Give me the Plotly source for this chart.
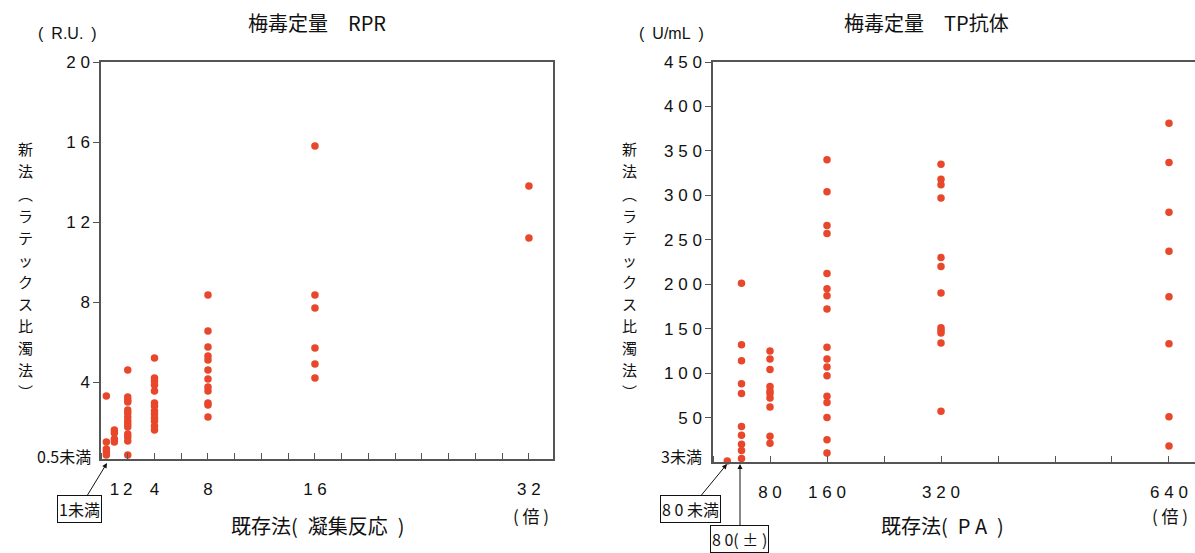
import plotly.graph_objects as go

# ---------------- data ----------------
# RPR (left): x = existing method (agglutination titre), y = new method (R.U.)
rpr_x_pos = [0.4, 1, 2, 4, 8, 16, 32]          # "1未満" drawn at 0.4
rpr_values = [
    [3.3, 1.0, 0.65, 0.5, 0.35],                                   # 1未満
    [1.6, 1.45, 1.15, 1.0],                                         # 1
    [4.6, 3.25, 3.1, 3.0, 2.6, 2.45, 2.25, 2.05, 1.9, 1.75, 1.4, 1.25, 1.05, 0.35],  # 2
    [5.2, 4.2, 4.05, 3.85, 3.55, 2.95, 2.8, 2.55, 2.4, 2.2, 2.05, 1.8, 1.6],          # 4
    [8.35, 6.55, 5.75, 5.3, 5.1, 4.6, 4.15, 3.75, 3.55, 2.95, 2.85, 2.25],            # 8
    [15.8, 8.35, 7.7, 5.7, 4.9, 4.2],                               # 16
    [13.8, 11.2],                                                   # 32
]
rpr_xtick_vals = [1, 2, 4, 8, 16, 32]
rpr_xtick_text = ["1", "2", "4", "8", "1 6", "3 2"]
rpr_ytick_vals = [4, 8, 12, 16, 20]
rpr_ytick_text = ["4", "8", "1 2", "1 6", "2 0"]

# TP antibody (right): x = existing method (PA titre), y = new method (U/mL)
tp_x_pos = [20, 40, 80, 160, 320, 640]          # "80未満" at 20, "80(±)" at 40
tp_values = [
    [1],                                                            # 80未満
    [201, 132, 114, 88, 77, 40, 30, 20, 13, 4],                     # 80(±)
    [125, 116, 104, 85, 80, 77, 72, 62, 29, 21],                    # 80
    [340, 304, 266, 257, 212, 195, 187, 172, 129, 116, 107, 97, 74, 67, 50, 25, 10],  # 160
    [335, 318, 312, 297, 230, 220, 190, 151, 148, 145, 134, 57],    # 320
    [381, 337, 281, 237, 186, 133, 51, 18],                         # 640
]
tp_xtick_vals = [80, 160, 320, 640]
tp_xtick_text = ["8 0", "1 6 0", "3 2 0", "6 4 0"]
tp_ytick_vals = [50, 100, 150, 200, 250, 300, 350, 400, 450]
tp_ytick_text = ["5 0", "1 0 0", "1 5 0", "2 0 0", "2 5 0", "3 0 0", "3 5 0", "4 0 0", "4 5 0"]

y_title_chars = list("新法︵ラテックス比濁法︶")

# ---------------- styling ----------------
W, H = 1195, 553
RED = "#e8472b"
AX = "#555555"
FONT = "Liberation Sans, Arial, Noto Sans CJK JP, sans-serif"
JP = "Noto Sans CJK JP, Liberation Sans, sans-serif"


def px(xp):
    return xp / W


def py(yp):
    return 1 - yp / H


fig = go.Figure()
for xv, ys in zip(rpr_x_pos, rpr_values):
    fig.add_trace(go.Scatter(x=[xv] * len(ys), y=ys, mode="markers",
                             marker=dict(color=RED, size=7.5), cliponaxis=False,
                             xaxis="x", yaxis="y", showlegend=False, hoverinfo="x+y"))
for xv, ys in zip(tp_x_pos, tp_values):
    fig.add_trace(go.Scatter(x=[xv] * len(ys), y=ys, mode="markers",
                             marker=dict(color=RED, size=7.5), cliponaxis=False,
                             xaxis="x2", yaxis="y2", showlegend=False, hoverinfo="x+y"))

common_x = dict(showline=True, linecolor=AX, linewidth=1.5, showgrid=False, zeroline=False,
                ticks="", tickfont=dict(size=17, color="#111", family=FONT),
                ticklabelstandoff=14, automargin=False)
common_y = dict(showline=True, linecolor=AX, linewidth=1.5, showgrid=False, zeroline=False,
                ticks="outside", ticklen=6, tickcolor=AX, tickwidth=1,
                tickfont=dict(size=17, color="#111", family=FONT), automargin=False)

fig.update_layout(
    width=W, height=H, margin=dict(l=0, r=0, t=0, b=0, autoexpand=False),
    paper_bgcolor="white", plot_bgcolor="white",
    font=dict(family=FONT, color="#111"),
    xaxis=dict(domain=[px(101), px(553)], range=[0, 33.8], anchor="y", mirror=True,
               tickmode="array", tickvals=rpr_xtick_vals, ticktext=rpr_xtick_text,
               minor=dict(tickmode="linear", tick0=0, dtick=2, ticks="inside", ticklen=6,
                          tickcolor=AX, tickwidth=1),
               **common_x),
    yaxis=dict(domain=[py(459), py(62)], range=[0.15, 20], anchor="x", mirror=True,
               tickmode="array", tickvals=rpr_ytick_vals, ticktext=rpr_ytick_text,
               **common_y),
    xaxis2=dict(domain=[px(713), 1.0], range=[0, 676.5], anchor="y2", mirror=True,
                tickmode="array", tickvals=tp_xtick_vals, ticktext=tp_xtick_text,
                minor=dict(tickmode="linear", tick0=0, dtick=80, ticks="inside", ticklen=6,
                           tickcolor=AX, tickwidth=1),
                **common_x),
    yaxis2=dict(domain=[py(462), py(62)], range=[0, 450], anchor="x2", mirror=False,
                tickmode="array", tickvals=tp_ytick_vals, ticktext=tp_ytick_text,
                **common_y),
)

ann = []


def txt(x, y, t, size=16, xanchor="center", family=JP, pad=1):
    ann.append(dict(x=px(x), y=py(y), xref="paper", yref="paper", text=t, showarrow=False,
                    xanchor=xanchor, yanchor="middle", borderpad=pad,
                    font=dict(size=size, family=family, color="#111")))


# titles
txt(317, 22, "梅毒定量　RPR", 20)
txt(926, 22, "梅毒定量　TP抗体", 20)
# units
txt(67, 34, "(\u2002R.U.\u2002)", 16, family=FONT)
txt(671, 34, "(\u2002U/mL\u2002)", 16, family=FONT)
# vertical y titles, one character per line
for xv in (26, 629):
    for i, ch in enumerate(y_title_chars):
        txt(xv, 149 + i * 22, ch, 15, pad=0)
# x titles
txt(318, 525, "既存法(\u2002凝集反応\u2002)", 20)
txt(942, 525, "既存法(\u2002P A\u2002)", 20)
txt(531, 515, "( 倍 )", 17)
txt(1170, 515, "( 倍 )", 17)
# lowest y labels
txt(93, 456, "0.5未満", 16, xanchor="right")
txt(704, 456, "3未満", 16, xanchor="right")


# boxed arrow labels
def boxed(tipx, tipy, axv, ayv, t):
    ann.append(dict(x=px(tipx), y=py(tipy), xref="paper", yref="paper", text=t,
                    showarrow=True, ax=axv, ay=ayv, arrowhead=2, arrowsize=1, arrowwidth=1,
                    arrowcolor="#111", standoff=0, bordercolor="#111", borderwidth=1,
                    borderpad=1, bgcolor="white", font=dict(size=16, family=JP, color="#111")))


boxed(107, 463, -28, 46, "1未満")
boxed(727, 464, -37, 45, "8 0 未満")
boxed(740, 464, 0, 75, "8 0( ± )")

fig.update_layout(annotations=ann)
post = (
    "document.documentElement.style.margin='0';document.body.style.margin='0';"
    "document.body.style.padding='0';document.documentElement.style.overflow='hidden';"
    "document.body.style.overflow='hidden';"
    "var gd=document.getElementById('{plot_id}');gd.style.position='absolute';"
    "gd.style.left='0px';gd.style.top='0px';"
)
fig.write_html("out.html", config={"displayModeBar": False}, post_script=post)
